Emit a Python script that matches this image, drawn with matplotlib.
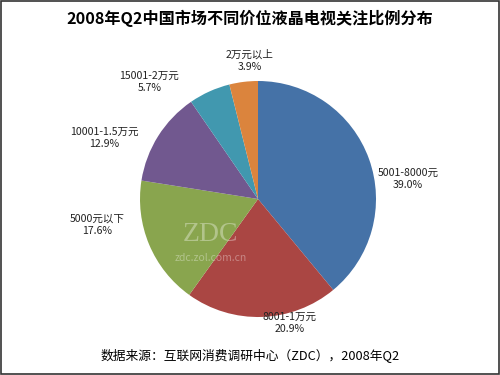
import matplotlib
matplotlib.use("Agg")
import matplotlib.pyplot as plt
from matplotlib.patches import Rectangle

plt.rcParams['font.family'] = ['Noto Sans CJK SC', 'DejaVu Sans']

categories = ['5001-8000元', '8001-1万元', '5000元以下', '10001-1.5万元', '15001-2万元', '2万元以上']
values = [39.0, 20.9, 17.6, 12.9, 5.7, 3.9]
colors = ['#4572A7', '#AA4643', '#89A54E', '#71588F', '#4198AF', '#DB843D']
# label placement (in pie-radius units), layout only
label_pos = [(1.27, 0.17), (0.27, -1.05), (-1.36, -0.22), (-1.30, 0.52), (-0.92, 0.99), (-0.07, 1.17)]

title = '2008年Q2中国市场不同价位液晶电视关注比例分布'
source = '数据来源：互联网消费调研中心（ZDC），2008年Q2'

fig = plt.figure(figsize=(5, 3.75), dpi=100)
cx, cy, r = 258, 199, 118
ax = fig.add_axes([(cx - r) / 500, (375 - cy - r) / 375, 2 * r / 500, 2 * r / 375])
ax.pie(values, colors=colors, startangle=90, counterclock=False, radius=1,
       wedgeprops=dict(linewidth=0))
ax.set_xlim(-1, 1)
ax.set_ylim(-1, 1)
ax.set_aspect('auto')
ax.axis('off')

for cat, v, (x, y) in zip(categories, values, label_pos):
    ax.text(x, y, f'{cat}\n{v:.1f}%', ha='center', va='center', fontsize=7.6,
            color='#222222', linespacing=1.3, clip_on=False)

# watermark
ax.text(-0.4, -0.3, 'ZDC', ha='center', va='center', fontsize=20, color='white', alpha=0.35,
        family='Liberation Serif')
ax.text(-0.4, -0.5, 'zdc.zol.com.cn', ha='center', va='center', fontsize=7.5, color='white', alpha=0.35)

fig.text(0.5, 1 - 18 / 375, title, ha='center', va='center', fontsize=11.6, fontweight='bold', color='black')
fig.text(0.5, 1 - 355 / 375, source, ha='center', va='center', fontsize=9.2, color='black')

fig.patches.append(Rectangle((0.002, 0.003), 0.995, 0.994, transform=fig.transFigure,
                             fill=False, edgecolor='#333333', linewidth=1.2))

fig.savefig('out.png', dpi=100)
